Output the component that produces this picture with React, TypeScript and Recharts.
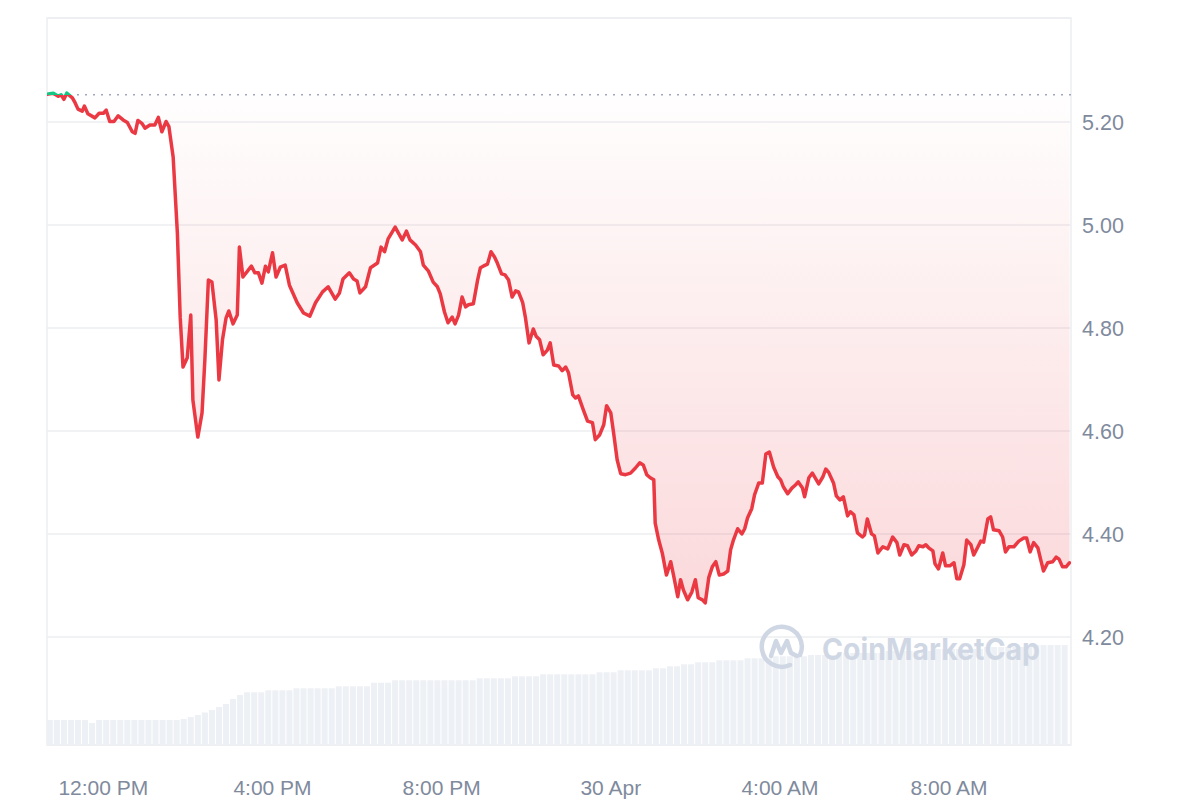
import React from "react";
import {
  ComposedChart,
  Area,
  Line,
  Bar,
  XAxis,
  YAxis,
  CartesianGrid,
  ReferenceLine,
  ReferenceArea,
} from "recharts";

// minutes since 00:00, 29 Apr
const priceTimes = [
  640, 644, 649, 656, 660, 664, 668, 676, 680, 684,
  690, 693, 698, 708, 714, 720, 724, 729, 735, 741,
  748, 754, 761, 765, 769, 775, 779, 786, 793, 798,
  803, 809, 813, 819, 825, 829, 833, 839, 844, 847,
  854, 860, 864, 869, 874, 880, 884, 889, 894, 898,
  904, 910, 913, 918, 930, 935, 940, 945, 950, 954,
  960, 965, 971, 978, 984, 995, 1004, 1013, 1021, 1031,
  1039, 1049, 1055, 1060, 1069, 1075, 1080, 1084, 1092, 1099,
  1109, 1114, 1119, 1124, 1134, 1144, 1150, 1155, 1163, 1170,
  1174, 1181, 1188, 1194, 1198, 1204, 1209, 1215, 1219, 1224,
  1229, 1234, 1238, 1245, 1251, 1255, 1259, 1265, 1270, 1275,
  1279, 1285, 1290, 1295, 1300, 1305, 1309, 1315, 1319, 1324,
  1330, 1334, 1339, 1344, 1350, 1354, 1359, 1366, 1371, 1376,
  1380, 1386, 1390, 1394, 1401, 1407, 1414, 1418, 1424, 1430,
  1434, 1440, 1444, 1449, 1454, 1461, 1468, 1475, 1481, 1486,
  1491, 1496, 1501, 1503, 1508, 1513, 1519, 1525, 1529, 1535,
  1539, 1543, 1549, 1555, 1560, 1564, 1570, 1574, 1579, 1584,
  1589, 1594, 1600, 1606, 1610, 1614, 1620, 1626, 1630, 1634,
  1640, 1644, 1650, 1655, 1660, 1665, 1671, 1677, 1681, 1685,
  1691, 1697, 1702, 1706, 1712, 1715, 1721, 1726, 1735, 1741,
  1745, 1749, 1756, 1760, 1765, 1770, 1776, 1780, 1785, 1790,
  1797, 1800, 1804, 1810, 1814, 1819, 1826, 1833, 1840, 1846,
  1850, 1856, 1861, 1867, 1873, 1877, 1883, 1887, 1891, 1897,
  1900, 1905, 1911, 1915, 1921, 1927, 1931, 1935, 1941, 1945,
  1951, 1955, 1961, 1965, 1969, 1975, 1979, 1983, 1991, 1996,
  2000, 2005, 2012, 2019, 2026, 2030, 2035, 2040, 2046, 2050,
  2054, 2060, 2067, 2072, 2076, 2081, 2086, 2091,
];

const prices = [
  5.254, 5.255, 5.256, 5.25, 5.253, 5.244, 5.256, 5.247, 5.237, 5.225,
  5.221, 5.231, 5.216, 5.208, 5.217, 5.217, 5.223, 5.201, 5.201, 5.212,
  5.204, 5.199, 5.181, 5.178, 5.203, 5.197, 5.188, 5.194, 5.194, 5.209,
  5.181, 5.201, 5.191, 5.132, 4.984, 4.821, 4.724, 4.742, 4.825, 4.66,
  4.588, 4.635, 4.738, 4.893, 4.889, 4.816, 4.699, 4.777, 4.819, 4.833,
  4.808, 4.825, 4.957, 4.899, 4.92, 4.907, 4.907, 4.887, 4.92, 4.909,
  4.946, 4.899, 4.918, 4.922, 4.883, 4.849, 4.829, 4.823, 4.849, 4.87,
  4.88, 4.856, 4.868, 4.895, 4.907, 4.895, 4.891, 4.868, 4.88, 4.917,
  4.926, 4.957, 4.948, 4.973, 4.996, 4.971, 4.988, 4.971, 4.961, 4.948,
  4.922, 4.911, 4.889, 4.88, 4.866, 4.831, 4.81, 4.821, 4.808, 4.825,
  4.86, 4.841, 4.845, 4.847, 4.893, 4.917, 4.92, 4.924, 4.948, 4.938,
  4.926, 4.905, 4.903, 4.893, 4.86, 4.872, 4.87, 4.849, 4.819, 4.771,
  4.798, 4.784, 4.777, 4.748, 4.757, 4.771, 4.728, 4.726, 4.717, 4.724,
  4.713, 4.67, 4.664, 4.668, 4.641, 4.619, 4.616, 4.583, 4.592, 4.612,
  4.649, 4.635, 4.596, 4.544, 4.517, 4.515, 4.518, 4.528, 4.538, 4.534,
  4.515, 4.509, 4.505, 4.421, 4.388, 4.363, 4.32, 4.346, 4.32, 4.278,
  4.311, 4.291, 4.272, 4.287, 4.311, 4.276, 4.272, 4.266, 4.315, 4.336,
  4.346, 4.32, 4.322, 4.328, 4.369, 4.388, 4.41, 4.4, 4.41, 4.431,
  4.449, 4.476, 4.499, 4.499, 4.555, 4.559, 4.53, 4.511, 4.505, 4.491,
  4.478, 4.489, 4.495, 4.501, 4.489, 4.472, 4.509, 4.518, 4.497, 4.511,
  4.526, 4.52, 4.499, 4.474, 4.466, 4.472, 4.435, 4.443, 4.437, 4.402,
  4.394, 4.398, 4.429, 4.4, 4.396, 4.363, 4.375, 4.371, 4.394, 4.383,
  4.359, 4.379, 4.377, 4.359, 4.367, 4.377, 4.375, 4.379, 4.373, 4.367,
  4.342, 4.332, 4.363, 4.338, 4.338, 4.344, 4.313, 4.313, 4.34, 4.388,
  4.379, 4.359, 4.375, 4.386, 4.384, 4.429, 4.433, 4.408, 4.406, 4.394,
  4.365, 4.375, 4.375, 4.386, 4.392, 4.392, 4.365, 4.383, 4.373, 4.35,
  4.328, 4.344, 4.346, 4.355, 4.351, 4.336, 4.336, 4.344,
];

// 24h volume (M), one bar every 10 minutes starting 10:44
const volumeStart = 644;
const volumeStep = 10;
const volumes = [
  2.5, 2.5, 2.5, 2.5, 2.5, 2.5, 2.2, 2.5, 2.5, 2.5,
  2.5, 2.5, 2.5, 2.5, 2.5, 2.5, 2.5, 2.5, 2.5, 2.6,
  2.8, 3.0, 3.25, 3.5, 3.8, 4.1, 4.6, 5.0, 5.27, 5.27,
  5.27, 5.47, 5.47, 5.47, 5.47, 5.67, 5.67, 5.67, 5.67, 5.67,
  5.67, 5.87, 5.87, 5.87, 5.87, 5.87, 6.23, 6.23, 6.23, 6.47,
  6.47, 6.47, 6.47, 6.47, 6.47, 6.47, 6.47, 6.47, 6.47, 6.47,
  6.47, 6.67, 6.67, 6.67, 6.67, 6.67, 6.87, 6.87, 6.87, 6.87,
  7.07, 7.07, 7.07, 7.07, 7.07, 7.07, 7.07, 7.07, 7.27, 7.27,
  7.27, 7.47, 7.47, 7.47, 7.47, 7.47, 7.67, 7.67, 7.87, 7.87,
  8.07, 8.07, 8.27, 8.27, 8.27, 8.47, 8.47, 8.47, 8.47, 8.67,
  8.67, 8.67, 8.67, 8.87, 8.87, 8.87, 8.87, 8.87, 9.0, 9.0,
  9.0, 9.0, 9.0, 9.2, 9.2, 9.2, 9.2, 9.2, 9.2, 9.4,
  9.4, 9.4, 9.4, 9.4, 9.4, 9.4, 9.6, 9.6, 9.6, 9.6,
  9.6, 9.6, 9.6, 9.8, 9.8, 9.8, 9.8, 9.8, 9.8, 10.0,
  10.0, 10.0, 10.0, 10.0, 10.0,
];

const openPrice = 5.253;
const xTicks = [720, 960, 1200, 1440, 1680, 1920];
const xTickLabels = ["12:00 PM", "4:00 PM", "8:00 PM", "30 Apr", "4:00 AM", "8:00 AM"];
const yTicks = [4.2, 4.4, 4.6, 4.8, 5.0, 5.2];
const xDomain = [640, 2093];
const yDomain = [3.99, 5.402];
const volDomain = [0, 72.7];

const priceRows = priceTimes.map((t, i) => ({ t, price: prices[i] }));
const volumeRows = volumes.map((v, i) => ({ t: volumeStart + i * volumeStep, vol: v }));
const data = [...priceRows, ...volumeRows].sort((a, b) => a.t - b.t);

const maxP = Math.max(...prices);
const minP = Math.min(...prices);
const greenOffset = Math.max(0, (maxP - openPrice) / (maxP - minP));

const FONT = "'Liberation Sans', Arial, Helvetica, sans-serif";
const xTickStyle = { fill: "#808a9d", fontSize: 21, fontFamily: FONT };
const yTickStyle = { fill: "#808a9d", fontSize: 21.5, fontFamily: FONT };

const BAR_W = 6;

function VolumeBar(props: any) {
  const { x, y, width, height } = props;
  if (height == null || !isFinite(height) || height <= 0) return null;
  const cx = x + width / 2;
  return <rect x={cx - BAR_W / 2} y={y} width={BAR_W} height={height} fill="#edf0f4" />;
}

export default function App() {
  return (
    <div style={{ position: "relative", width: 1184, height: 792 }}>
      <ComposedChart
        width={1184}
        height={792}
        data={data}
        margin={{ top: 10, right: 0, bottom: 0, left: 39 }}
      >
        <defs>
          <linearGradient id="areaFill" x1="0" y1="0" x2="0" y2="1">
            <stop offset="0%" stopColor="#ea3943" stopOpacity={0.01} />
            <stop offset="100%" stopColor="#ea3943" stopOpacity={0.32} />
          </linearGradient>
          <linearGradient id="lineStroke" x1="0" y1="0" x2="0" y2="1">
            <stop offset={greenOffset} stopColor="#16c784" />
            <stop offset={greenOffset} stopColor="#ea3943" />
            <stop offset={1} stopColor="#ea3943" />
          </linearGradient>
        </defs>
        <CartesianGrid yAxisId="price" vertical={false} stroke="#eceef1" strokeWidth={1.5} />
        <XAxis
          dataKey="t"
          type="number"
          domain={xDomain}
          ticks={xTicks}
          tickFormatter={(v) => xTickLabels[xTicks.indexOf(v)] ?? ""}
          axisLine={false}
          tickLine={false}
          tickSize={0}
          tickMargin={35}
          height={55}
          tick={xTickStyle}
          allowDataOverflow
        />
        <YAxis
          yAxisId="price"
          orientation="right"
          type="number"
          domain={yDomain}
          ticks={yTicks}
          tickFormatter={(v) => Number(v).toFixed(2)}
          axisLine={false}
          tickLine={false}
          tickSize={0}
          tickMargin={11}
          width={121}
          tick={yTickStyle}
          allowDataOverflow
        />
        <YAxis yAxisId="vol" hide domain={volDomain} allowDataOverflow />
        <Bar
          yAxisId="vol"
          dataKey="vol"
          fill="#edf0f4"
          shape={VolumeBar}
          isAnimationActive={false}
        />
        <ReferenceArea
          yAxisId="price"
          x1={xDomain[0]}
          x2={xDomain[1]}
          y1={yDomain[0]}
          y2={yDomain[1]}
          fill="none"
          stroke="#eceef1"
          strokeWidth={1.5}
          ifOverflow="visible"
        />
        <Area
          yAxisId="price"
          dataKey="price"
          type="linear"
          baseValue={openPrice}
          fill="url(#areaFill)"
          stroke="none"
          connectNulls
          isAnimationActive={false}
        />
        <ReferenceLine
          yAxisId="price"
          y={openPrice}
          stroke="#a1a7bb"
          strokeWidth={1.5}
          strokeDasharray="2 6"
        />
        <Line
          yAxisId="price"
          dataKey="price"
          type="linear"
          stroke="url(#lineStroke)"
          strokeWidth={3.5}
          strokeLinejoin="round"
          strokeLinecap="round"
          dot={false}
          activeDot={false}
          connectNulls
          isAnimationActive={false}
        />
      </ComposedChart>
      <svg
        width={300}
        height={60}
        style={{ position: "absolute", left: 750, top: 610, pointerEvents: "none" }}
      >
        <g transform="translate(24,29)" fill="none" stroke="#d0d7e4" strokeWidth={4.5} strokeLinecap="round" strokeLinejoin="round">
          <path d="M 18 8 A 20 20 0 1 0 8 18" />
          <path d="M -11 9 L -6 -6 L -1 6 L 5 -6 L 9 6 L 15 9" />
        </g>
        <text
          x={64}
          y={42}
          fill="#d0d7e4"
          fontSize={30}
          fontWeight={700}
          fontFamily="Inter, 'Open Sans', sans-serif"
          textLength={218}
          lengthAdjust="spacingAndGlyphs"
        >
          CoinMarketCap
        </text>
      </svg>
    </div>
  );
}
